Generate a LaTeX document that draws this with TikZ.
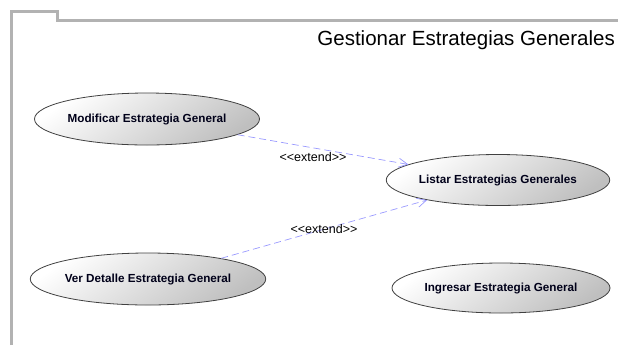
\documentclass[tikz,border=0pt]{standalone}
\usepackage{fontspec}
\setmainfont{Liberation Sans}
\usetikzlibrary{shapes.geometric,arrows.meta}
\begin{document}
\begin{tikzpicture}[x=1bp,y=-1bp,
  usecase/.style={ellipse, draw=black!75, line width=0.8bp, inner sep=0pt,
    top color=white, bottom color=black!25, shading angle=35,
    font=\fontsize{11.7bp}{13bp}\selectfont\bfseries, text=black!90!blue},
  extendline/.style={draw=blue!40, line width=0.7bp, dash pattern=on 7bp off 4bp,
    -{Straight Barb[length=9bp,width=9bp]}},
  lbl/.style={font=\fontsize{12.5bp}{14bp}\selectfont, text=black, inner sep=0pt},
  frame/.style={draw=black!30, line width=3bp}
]
\useasboundingbox (0,0) rectangle (618,345);
\draw[frame] (11,345) -- (11,11) -- (57,11) -- (57,20) -- (618,20);
\node[anchor=east, font=\fontsize{20.5bp}{23bp}\selectfont, inner sep=0pt] (title) at (615,40) {Gestionar Estrategias Generales};

\node[usecase, minimum width=225bp, minimum height=52bp] (mod) at (147,119) {Modificar Estrategia General};
\node[usecase, minimum width=223bp, minimum height=51bp] (lis) at (498,180) {Listar Estrategias Generales};
\node[usecase, minimum width=231bp, minimum height=52bp] (ver) at (148,279) {Ver Detalle Estrategia General};
\node[usecase, minimum width=218bp, minimum height=50bp] (ing) at (501,288) {Ingresar Estrategia General};

\draw[extendline] (mod) -- (lis);
\draw[extendline] (ver) -- (lis);
\node[lbl] (e1) at (313,157) {{<}{<}extend{>}{>}};
\node[lbl] (e2) at (324,229) {{<}{<}extend{>}{>}};
\end{tikzpicture}
\end{document}
